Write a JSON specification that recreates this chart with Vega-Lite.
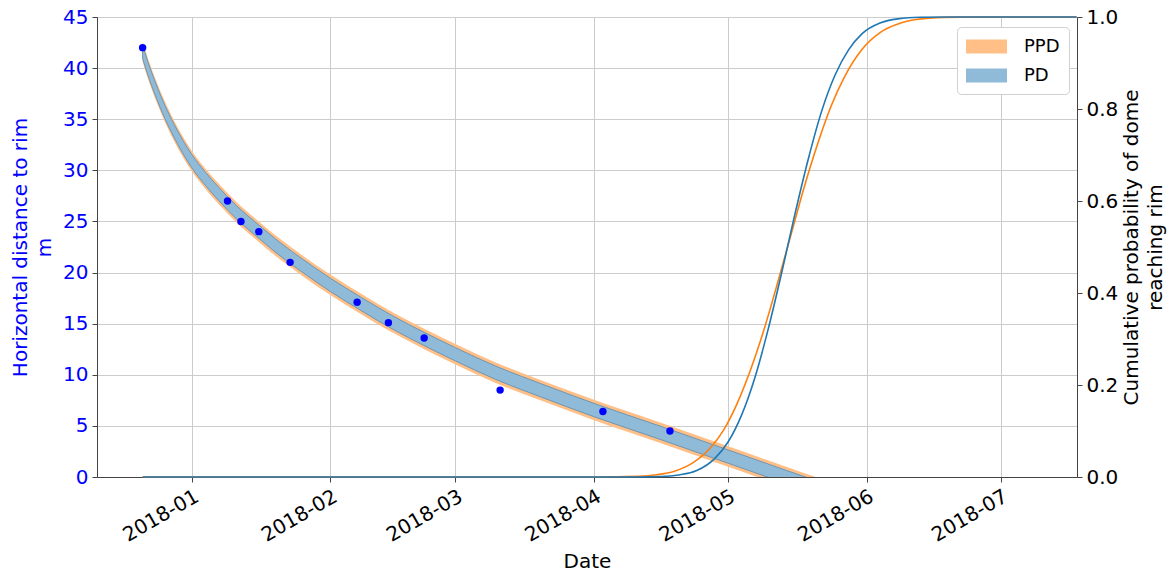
{
  "$schema": "https://vega.github.io/schema/vega-lite/v6.json",
  "width": 980,
  "height": 460,
  "autosize": {"type": "none"},
  "padding": {"left": 97, "top": 17, "right": 95, "bottom": 96},
  "config": {
    "font": "DejaVu Sans",
    "view": {"stroke": "#444444", "strokeWidth": 1},
    "axis": {
      "labelFont": "DejaVu Sans",
      "titleFont": "DejaVu Sans",
      "labelFontSize": 20,
      "titleFontSize": 20,
      "titleFontWeight": "normal",
      "gridColor": "#cccccc",
      "gridWidth": 1,
      "domainColor": "#444444",
      "tickColor": "#444444",
      "tickSize": 5,
      "labelColor": "#000000",
      "titleColor": "#000000",
      "labelPadding": 4,
      "titleLineHeight": 24
    }
  },
  "datasets": {
    "bands": [
      {"date": "2017-12-21T00:00", "ppd_lo": 40.6, "ppd_hi": 42.6, "pd_lo": 40.95, "pd_hi": 42.25},
      {"date": "2017-12-22T00:00", "ppd_lo": 39.2, "ppd_hi": 41.2, "pd_lo": 39.55, "pd_hi": 40.85},
      {"date": "2017-12-24T00:00", "ppd_lo": 36.8, "ppd_hi": 38.8, "pd_lo": 37.15, "pd_hi": 38.45},
      {"date": "2017-12-26T00:00", "ppd_lo": 34.7, "ppd_hi": 36.7, "pd_lo": 35.05, "pd_hi": 36.35},
      {"date": "2017-12-28T00:00", "ppd_lo": 32.9, "ppd_hi": 34.9, "pd_lo": 33.25, "pd_hi": 34.55},
      {"date": "2017-12-30T00:00", "ppd_lo": 31.3, "ppd_hi": 33.3, "pd_lo": 31.65, "pd_hi": 32.95},
      {"date": "2018-01-01T00:00", "ppd_lo": 29.9, "ppd_hi": 31.9, "pd_lo": 30.25, "pd_hi": 31.55},
      {"date": "2018-01-04T00:00", "ppd_lo": 28.2, "ppd_hi": 30.2, "pd_lo": 28.55, "pd_hi": 29.85},
      {"date": "2018-01-07T00:00", "ppd_lo": 26.7, "ppd_hi": 28.7, "pd_lo": 27.05, "pd_hi": 28.35},
      {"date": "2018-01-11T00:00", "ppd_lo": 24.9, "ppd_hi": 26.9, "pd_lo": 25.25, "pd_hi": 26.55},
      {"date": "2018-01-16T00:00", "ppd_lo": 23.0, "ppd_hi": 25.0, "pd_lo": 23.35, "pd_hi": 24.65},
      {"date": "2018-01-21T00:00", "ppd_lo": 21.2, "ppd_hi": 23.2, "pd_lo": 21.55, "pd_hi": 22.85},
      {"date": "2018-01-26T00:00", "ppd_lo": 19.6, "ppd_hi": 21.6, "pd_lo": 19.95, "pd_hi": 21.25},
      {"date": "2018-02-01T00:00", "ppd_lo": 17.8, "ppd_hi": 19.8, "pd_lo": 18.15, "pd_hi": 19.45},
      {"date": "2018-02-08T00:00", "ppd_lo": 15.9, "ppd_hi": 17.9, "pd_lo": 16.25, "pd_hi": 17.55},
      {"date": "2018-02-15T00:00", "ppd_lo": 14.1, "ppd_hi": 16.1, "pd_lo": 14.45, "pd_hi": 15.75},
      {"date": "2018-02-22T00:00", "ppd_lo": 12.5, "ppd_hi": 14.5, "pd_lo": 12.85, "pd_hi": 14.15},
      {"date": "2018-03-01T00:00", "ppd_lo": 11.0, "ppd_hi": 13.0, "pd_lo": 11.35, "pd_hi": 12.65},
      {"date": "2018-03-10T00:00", "ppd_lo": 9.2, "ppd_hi": 11.2, "pd_lo": 9.55, "pd_hi": 10.85},
      {"date": "2018-03-20T00:00", "ppd_lo": 7.5, "ppd_hi": 9.5, "pd_lo": 7.85, "pd_hi": 9.15},
      {"date": "2018-04-01T00:00", "ppd_lo": 5.55, "ppd_hi": 7.55, "pd_lo": 5.9, "pd_hi": 7.2},
      {"date": "2018-04-16T00:00", "ppd_lo": 3.3, "ppd_hi": 5.3, "pd_lo": 3.65, "pd_hi": 4.95},
      {"date": "2018-05-01T00:00", "ppd_lo": 1.0, "ppd_hi": 3.0, "pd_lo": 1.35, "pd_hi": 2.65},
      {"date": "2018-05-14T00:00", "ppd_lo": -1.0, "ppd_hi": 1.0, "pd_lo": -0.65, "pd_hi": 0.65},
      {"date": "2018-05-28T00:00", "ppd_lo": -3.1, "ppd_hi": -1.1, "pd_lo": -2.75, "pd_hi": -1.45}
    ],
    "obs": [
      {"date": "2017-12-21T00:00", "d": 42.0},
      {"date": "2018-01-09T00:00", "d": 27.0},
      {"date": "2018-01-12T00:00", "d": 25.0},
      {"date": "2018-01-16T00:00", "d": 24.0},
      {"date": "2018-01-23T00:00", "d": 21.0},
      {"date": "2018-02-07T00:00", "d": 17.1},
      {"date": "2018-02-14T00:00", "d": 15.1},
      {"date": "2018-02-22T00:00", "d": 13.6},
      {"date": "2018-03-11T00:00", "d": 8.5},
      {"date": "2018-04-03T00:00", "d": 6.4},
      {"date": "2018-04-18T00:00", "d": 4.5}
    ],
    "cdf_ppd": [
      {"date": "2017-12-21T00:00", "p": 0},
      {"date": "2018-04-01T00:00", "p": 0},
      {"date": "2018-04-11T00:00", "p": 0.0016},
      {"date": "2018-04-15T00:00", "p": 0.0048},
      {"date": "2018-04-19T00:00", "p": 0.0125},
      {"date": "2018-04-23T00:00", "p": 0.030},
      {"date": "2018-04-27T00:00", "p": 0.063},
      {"date": "2018-04-30T00:00", "p": 0.102},
      {"date": "2018-05-03T00:00", "p": 0.159},
      {"date": "2018-05-06T00:00", "p": 0.232},
      {"date": "2018-05-09T00:00", "p": 0.319},
      {"date": "2018-05-12T00:00", "p": 0.419},
      {"date": "2018-05-15T00:00", "p": 0.524},
      {"date": "2018-05-18T00:00", "p": 0.629},
      {"date": "2018-05-21T00:00", "p": 0.723},
      {"date": "2018-05-24T00:00", "p": 0.805},
      {"date": "2018-05-27T00:00", "p": 0.869},
      {"date": "2018-05-31T00:00", "p": 0.930},
      {"date": "2018-06-04T00:00", "p": 0.966},
      {"date": "2018-06-09T00:00", "p": 0.988},
      {"date": "2018-06-15T00:00", "p": 0.9975},
      {"date": "2018-06-22T00:00", "p": 0.9997},
      {"date": "2018-06-30T00:00", "p": 1.0},
      {"date": "2018-07-18T00:00", "p": 1.0}
    ],
    "cdf_pd": [
      {"date": "2017-12-21T00:00", "p": 0},
      {"date": "2018-04-06T00:00", "p": 0},
      {"date": "2018-04-16T00:00", "p": 0.0012},
      {"date": "2018-04-20T00:00", "p": 0.0045},
      {"date": "2018-04-24T00:00", "p": 0.014},
      {"date": "2018-04-28T00:00", "p": 0.040},
      {"date": "2018-05-01T00:00", "p": 0.076},
      {"date": "2018-05-04T00:00", "p": 0.134},
      {"date": "2018-05-07T00:00", "p": 0.216},
      {"date": "2018-05-10T00:00", "p": 0.322},
      {"date": "2018-05-13T00:00", "p": 0.444},
      {"date": "2018-05-16T00:00", "p": 0.573},
      {"date": "2018-05-19T00:00", "p": 0.693},
      {"date": "2018-05-22T00:00", "p": 0.797},
      {"date": "2018-05-25T00:00", "p": 0.875},
      {"date": "2018-05-28T00:00", "p": 0.929},
      {"date": "2018-05-31T00:00", "p": 0.964},
      {"date": "2018-06-04T00:00", "p": 0.987},
      {"date": "2018-06-08T00:00", "p": 0.996},
      {"date": "2018-06-13T00:00", "p": 0.9993},
      {"date": "2018-06-20T00:00", "p": 1.0},
      {"date": "2018-07-18T00:00", "p": 1.0}
    ]
  },
  "encoding": {
    "x": {
      "field": "date",
      "type": "temporal",
      "scale": {"domain": [{"year": 2017, "month": 12, "date": 10, "hours": 19}, {"year": 2018, "month": 7, "date": 18, "hours": 2}]},
      "axis": {
        "title": "Date",
        "format": "%Y-%m",
        "tickCount": {"interval": "month", "step": 1},
        "labelAngle": -30,
        "labelAlign": "right",
        "labelBaseline": "top",
        "labelDx": -10,
        "grid": true,
        "titlePadding": 6
      }
    }
  },
  "layer": [
    {
      "layer": [
        {
          "data": {"name": "bands"},
          "mark": {"type": "area", "clip": true, "interpolate": "monotone", "fillOpacity": 1},
          "encoding": {
            "y": {"field": "ppd_lo", "type": "quantitative", "scale": {"domain": [0, 45]}, "title": ["Horizontal distance to rim", "m"],
              "axis": {"values": [0, 5, 10, 15, 20, 25, 30, 35, 40, 45], "labelColor": "#0000ff", "titleColor": "#0000ff", "titlePadding": 8, "grid": true}},
            "y2": {"field": "ppd_hi"},
            "color": {
              "datum": "PPD",
              "scale": {"domain": ["PPD", "PD"], "range": ["#ffbf86", "#8fbbd9"]},
              "legend": {
                "orient": "none",
                "legendX": 860,
                "legendY": 10,
                "title": null,
                "symbolType": "M-2,-0.68H2V0.68H-2Z",
                "symbolSize": 420,
                "symbolOffset": 10,
                "symbolOpacity": 1,
                "symbolStrokeWidth": 0,
                "labelFont": "DejaVu Sans",
                "labelFontSize": 18,
                "labelColor": "#000000",
                "labelOffset": 27,
                "rowPadding": 9,
                "padding": 9,
                "fillColor": "#ffffff",
                "strokeColor": "#d0d0d0",
                "cornerRadius": 4
              }
            }
          }
        },
        {
          "data": {"name": "bands"},
          "mark": {"type": "area", "clip": true, "interpolate": "monotone", "fillOpacity": 1, "stroke": "#6f95b0", "strokeWidth": 1},
          "encoding": {
            "y": {"field": "pd_lo", "type": "quantitative", "scale": {"domain": [0, 45]}, "title": ["Horizontal distance to rim", "m"],
              "axis": {"values": [0, 5, 10, 15, 20, 25, 30, 35, 40, 45], "labelColor": "#0000ff", "titleColor": "#0000ff", "titlePadding": 8, "grid": true}},
            "y2": {"field": "pd_hi"},
            "color": {"datum": "PD"}
          }
        },
        {
          "data": {"name": "obs"},
          "mark": {"type": "point", "filled": true, "size": 55, "color": "#0000ff", "opacity": 1},
          "encoding": {
            "y": {"field": "d", "type": "quantitative", "scale": {"domain": [0, 45]}, "title": ["Horizontal distance to rim", "m"],
              "axis": {"values": [0, 5, 10, 15, 20, 25, 30, 35, 40, 45], "labelColor": "#0000ff", "titleColor": "#0000ff", "titlePadding": 8, "grid": true}}
          }
        }
      ]
    },
    {
      "layer": [
        {
          "data": {"name": "cdf_ppd"},
          "mark": {"type": "line", "color": "#ff7f0e", "strokeWidth": 1.6, "interpolate": "monotone"},
          "encoding": {
            "y": {"field": "p", "type": "quantitative", "scale": {"domain": [0, 1]}, "title": ["Cumulative probability of dome", "reaching rim"],
              "axis": {"orient": "right", "values": [0, 0.2, 0.4, 0.6, 0.8, 1.0], "format": ".1f", "grid": false, "titleAngle": 270, "titleBaseline": "top", "titlePadding": -20}}
          }
        },
        {
          "data": {"name": "cdf_pd"},
          "mark": {"type": "line", "color": "#1f77b4", "strokeWidth": 1.6, "interpolate": "monotone"},
          "encoding": {
            "y": {"field": "p", "type": "quantitative", "scale": {"domain": [0, 1]}, "title": ["Cumulative probability of dome", "reaching rim"],
              "axis": {"orient": "right", "values": [0, 0.2, 0.4, 0.6, 0.8, 1.0], "format": ".1f", "grid": false, "titleAngle": 270, "titleBaseline": "top", "titlePadding": -20}}
          }
        }
      ]
    }
  ],
  "resolve": {"scale": {"y": "independent"}}
}
